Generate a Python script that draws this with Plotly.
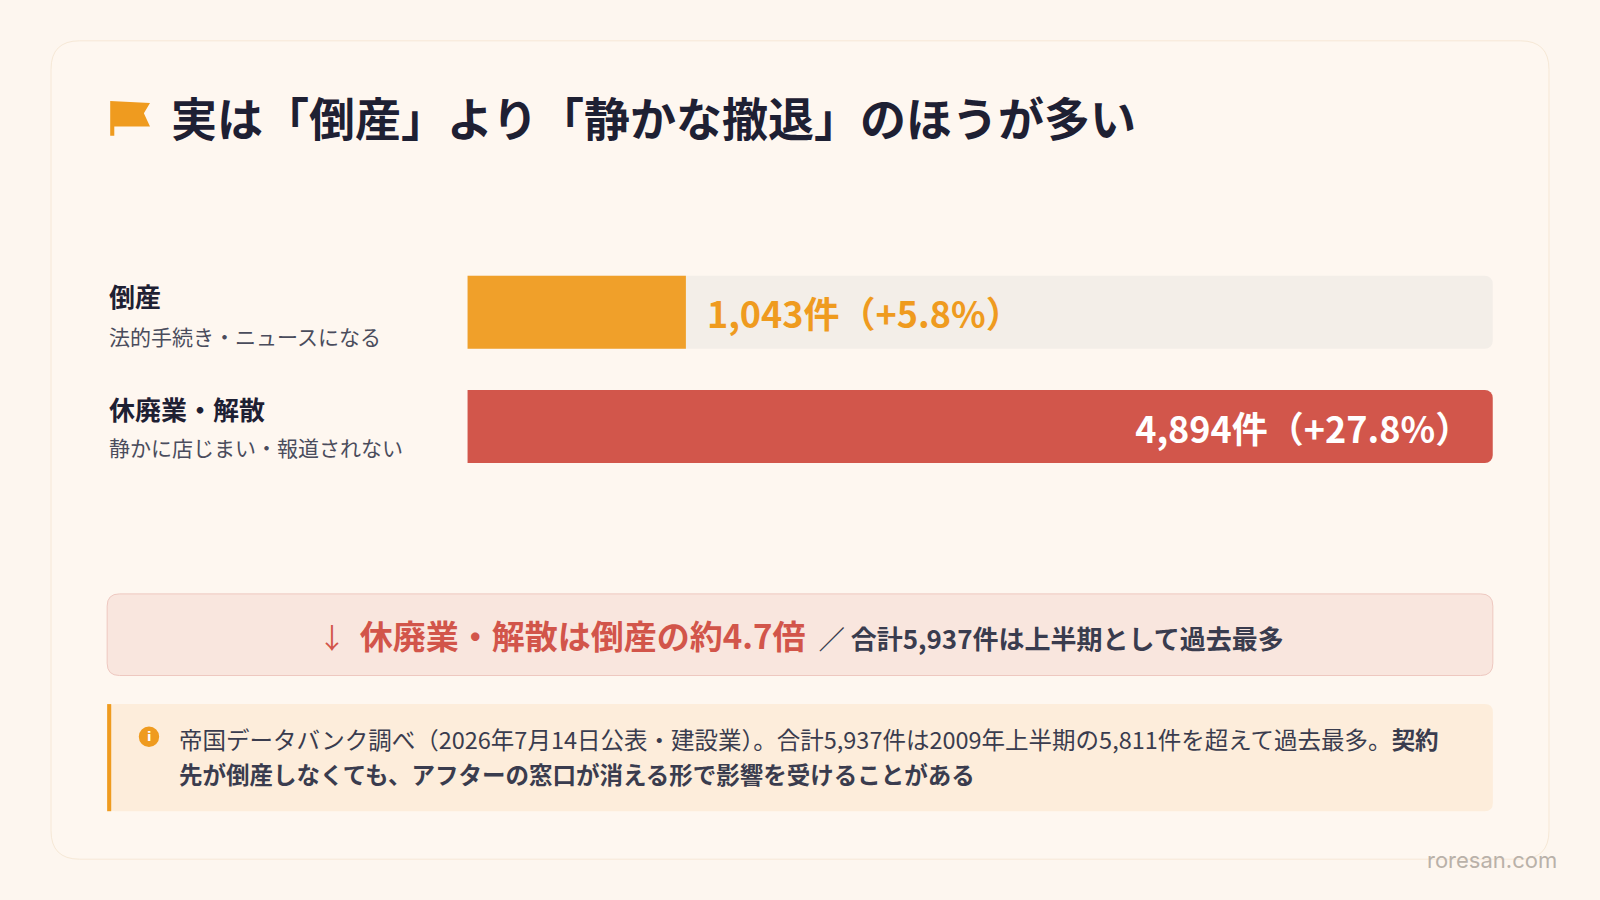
import plotly.graph_objects as go

W, H = 1600, 900
S = 1600 / 1568  # reference measured at 1568 px wide

categories = ["倒産", "休廃業・解散"]
subtitles = ["法的手続き・ニュースになる", "静かに店じまい・報道されない"]
counts = [1043, 4894]
growth = ["+5.8%", "+27.8%"]
bar_colors = ["#F0A02A", "#D2564B"]

FONT = "Noto Sans CJK JP"
DARK = "#1E2033"


def px(x):
    return x * S / W


def py(y):
    return 1 - y * S / H


def rrect(x0, y0, x1, y1, r):
    # rounded rectangle in reference pixel coords -> paper path
    return (
        f"M {px(x0 + r)},{py(y0)} L {px(x1 - r)},{py(y0)} "
        f"Q {px(x1)},{py(y0)} {px(x1)},{py(y0 + r)} L {px(x1)},{py(y1 - r)} "
        f"Q {px(x1)},{py(y1)} {px(x1 - r)},{py(y1)} L {px(x0 + r)},{py(y1)} "
        f"Q {px(x0)},{py(y1)} {px(x0)},{py(y1 - r)} L {px(x0)},{py(y0 + r)} "
        f"Q {px(x0)},{py(y0)} {px(x0 + r)},{py(y0)} Z"
    )


pads = [("\u2002", ""), ("", "\u2002")]
labels = [f"<b>{a}{c:,}件（{g}）{b}</b>" for (a, b), c, g in zip(pads, counts, growth)]
vmax = max(counts)

fig = go.Figure()
fig.add_trace(go.Bar(
    y=categories, x=[vmax] * len(categories), orientation="h",
    marker=dict(color="#F3EEE8", line_width=0), width=0.64,
    hoverinfo="skip", showlegend=False,
))
fig.add_trace(go.Bar(
    y=categories, x=counts, orientation="h",
    marker=dict(color=bar_colors, line_width=0), width=0.64,
    text=labels, textposition=["outside", "inside"], insidetextanchor="end",
    textfont=dict(family=FONT, size=36, color=["#EF9B1F", "white"]),
    cliponaxis=False, showlegend=False,
))

shapes = [
    dict(type="path", xref="paper", yref="paper", path=rrect(50, 40, 1518, 842, 28),
         fillcolor="#FEF7F0", line=dict(color="#F6E8D6", width=1), layer="below"),
    dict(type="path", xref="paper", yref="paper", path=rrect(105, 582, 1463, 662, 12),
         fillcolor="#F9E6DE", line=dict(color="#EEC8C0", width=1), layer="below"),
    dict(type="path", xref="paper", yref="paper", path=rrect(105, 690, 1463, 795, 8),
         fillcolor="#FDEDDB", line=dict(width=0), layer="below"),
    dict(type="rect", xref="paper", yref="paper", x0=px(105), x1=px(109), y0=py(690), y1=py(795),
         fillcolor="#EF9B1F", line_width=0),
    dict(type="circle", xref="paper", yref="paper", x0=px(136), x1=px(156), y0=py(712), y1=py(732),
         fillcolor="#EF9B1F", line_width=0),
    # flag icon
    dict(type="path", xref="paper", yref="paper",
         path=f"M {px(108)},{py(99)} L {px(147)},{py(101)} L {px(141)},{py(111)} L {px(147)},{py(124)} "
              f"L {px(112)},{py(124)} L {px(112)},{py(133)} L {px(108)},{py(133)} Z",
         fillcolor="#EF9B1F", line_width=0),
]

ann = [
    dict(x=px(166), y=py(114), text="<b>実は「倒産」より「静かな撤退」のほうが多い</b>",
         font=dict(family=FONT, size=46, color=DARK), xanchor="left", yanchor="middle"),
    dict(x=px(146), y=py(722), text="<b>i</b>", font=dict(family="DejaVu Sans", size=13, color="white"),
         xanchor="center", yanchor="middle"),
    dict(x=px(785), y=py(622), xanchor="center", yanchor="middle",
         text="<span style='color:#D2554A;font-size:28px'>↓ </span>"
              "<b><span style='color:#D2554A;font-size:33px'> 休廃業・解散は倒産の約4.7倍 </span></b>"
              "<b><span style='color:#3A3C4E;font-size:26px'> ／ 合計5,937件は上半期として過去最多</span></b>",
         font=dict(family=FONT, size=26)),
    dict(x=px(173), y=py(724), xanchor="left", yanchor="middle",
         text="帝国データバンク調べ（2026年7月14日公表・建設業）。合計5,937件は2009年上半期の5,811件を超えて過去最多。<b>契約</b>",
         font=dict(family=FONT, size=23.5, color="#3A3C4E")),
    dict(x=px(173), y=py(759), xanchor="left", yanchor="middle",
         text="<b>先が倒産しなくても、アフターの窓口が消える形で影響を受けることがある</b>",
         font=dict(family=FONT, size=23.5, color="#3A3C4E")),
    dict(x=px(1528), y=py(843), xanchor="right", yanchor="middle", text="roresan.com",
         font=dict(family="Inter", size=22, color="#B9B1A9")),
]
label_y = [(290, 329), (400, 438)]
for cat, sub, (y1, y2) in zip(categories, subtitles, label_y):
    ann.append(dict(x=px(105), y=py(y1), xanchor="left", yanchor="middle", text=f"<b>{cat}</b>",
                    font=dict(family=FONT, size=26, color=DARK)))
    ann.append(dict(x=px(105), y=py(y2), xanchor="left", yanchor="middle", text=sub,
                    font=dict(family=FONT, size=21, color="#4A4C5C")))
for a in ann:
    a.update(xref="paper", yref="paper", showarrow=False)

fig.update_layout(
    width=W, height=H, margin=dict(l=0, r=0, t=0, b=0),
    paper_bgcolor="#FDF6EF", plot_bgcolor="rgba(0,0,0,0)",
    barmode="overlay", barcornerradius=8,
    xaxis=dict(domain=[px(458), px(1463)], range=[0, vmax], visible=False, fixedrange=True),
    yaxis=dict(domain=[py(474), py(250)], range=[1.5, -0.5], visible=False,
               categoryorder="array", categoryarray=categories, fixedrange=True),
    shapes=shapes, annotations=ann, font=dict(family=FONT),
)

fig.write_html("out.html", config={"displayModeBar": False},
               post_script="document.body.style.margin='0';document.body.style.background='#FDF6EF';")
